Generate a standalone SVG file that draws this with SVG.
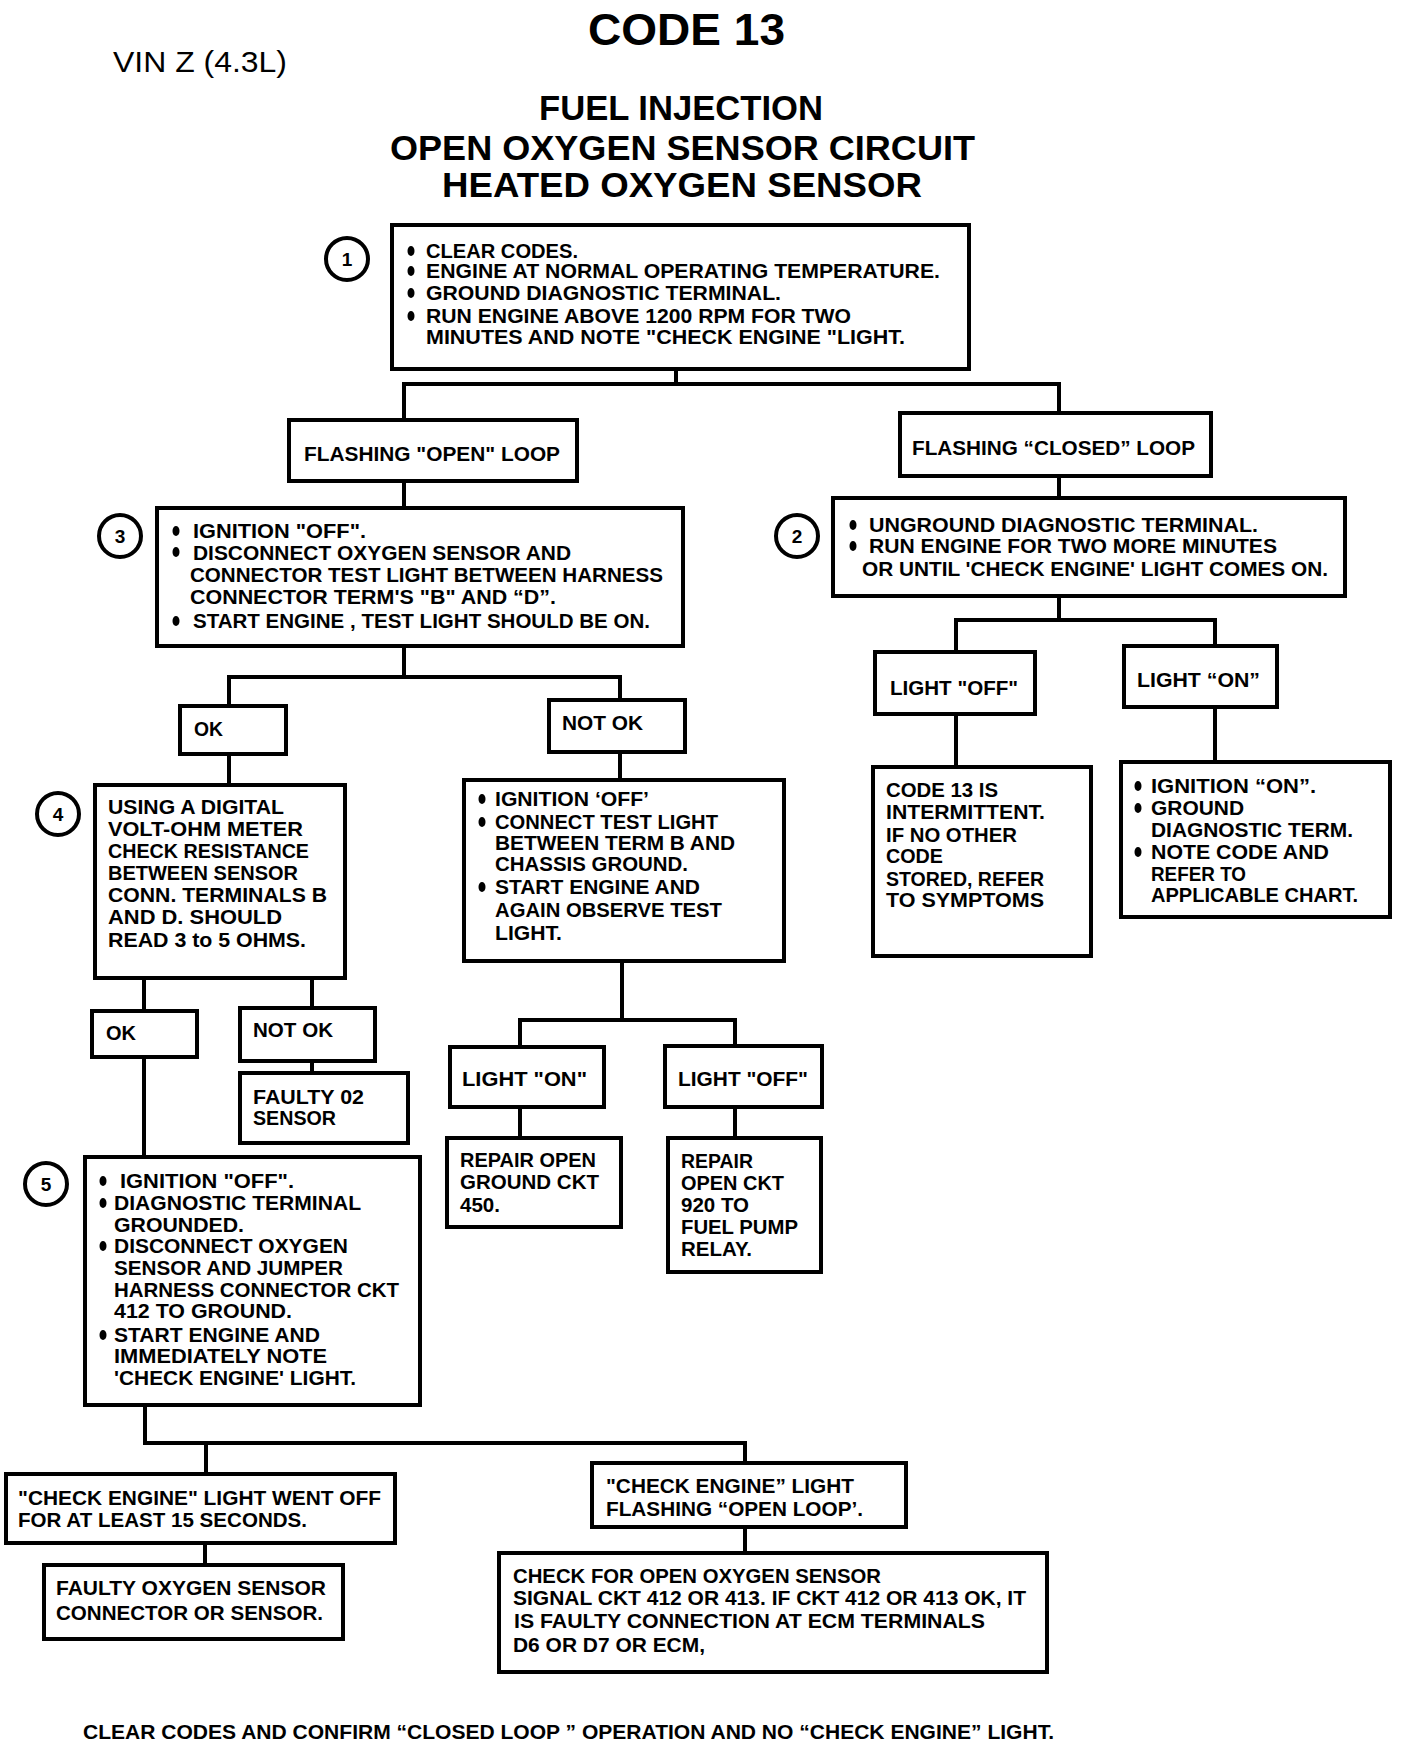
<svg xmlns="http://www.w3.org/2000/svg" width="1408" height="1746" viewBox="0 0 1408 1746">
<style>
.bg{fill:#fff}
.box{fill:#fff;stroke:#000;stroke-width:4}
.cn{fill:none;stroke:#000;stroke-width:4;stroke-linecap:square}
.t{font-family:"Liberation Sans Narrow","Liberation Sans",Arial,sans-serif;font-weight:bold;font-size:21px;fill:#000}
.h{font-family:"Liberation Sans Narrow","Liberation Sans",Arial,sans-serif;font-weight:bold;fill:#000}
.v{font-family:"Liberation Sans Narrow","Liberation Sans",Arial,sans-serif;font-size:29px;fill:#000}
.num{fill:#fff;stroke:#000;stroke-width:4}
.nt{font-family:"Liberation Sans","Arial",sans-serif;font-weight:bold;font-size:19px;text-anchor:middle;fill:#000}
.b{fill:#000}
</style>
<rect class="bg" x="0" y="0" width="1408" height="1746"/>

<g id="title">
<text class="h" x="588" y="45" font-size="44" textLength="197" lengthAdjust="spacingAndGlyphs">CODE 13</text>
<text class="v" x="113" y="72" textLength="174" lengthAdjust="spacingAndGlyphs">VIN Z (4.3L)</text>
<text class="h" x="539" y="120" font-size="35" textLength="284" lengthAdjust="spacingAndGlyphs">FUEL INJECTION</text>
<text class="h" x="390" y="160" font-size="35" textLength="585" lengthAdjust="spacingAndGlyphs">OPEN OXYGEN SENSOR CIRCUIT</text>
<text class="h" x="442" y="197" font-size="35" textLength="480" lengthAdjust="spacingAndGlyphs">HEATED OXYGEN SENSOR</text>
</g>

<g id="connectors">
<polyline class="cn" points="676,369 676,384"/>
<polyline class="cn" points="404,421 404,384 1059,384 1059,413"/>
<polyline class="cn" points="404,481 404,508"/>
<polyline class="cn" points="404,646 404,677"/>
<polyline class="cn" points="229,706 229,677 620,677 620,700"/>
<polyline class="cn" points="229,754 229,785"/>
<polyline class="cn" points="620,752 620,780"/>
<polyline class="cn" points="144,978 144,1011"/>
<polyline class="cn" points="312,978 312,1008"/>
<polyline class="cn" points="312,1061 312,1073"/>
<polyline class="cn" points="144,1057 144,1157"/>
<polyline class="cn" points="622,961 622,1020"/>
<polyline class="cn" points="520,1047 520,1020 735,1020 735,1046"/>
<polyline class="cn" points="520,1107 520,1138"/>
<polyline class="cn" points="735,1107 735,1138"/>
<polyline class="cn" points="1059,476 1059,498"/>
<polyline class="cn" points="1059,596 1059,620"/>
<polyline class="cn" points="956,652 956,620 1215,620 1215,646"/>
<polyline class="cn" points="956,714 956,767"/>
<polyline class="cn" points="1215,707 1215,762"/>
<polyline class="cn" points="145,1405 145,1443 745,1443 745,1463"/>
<polyline class="cn" points="206,1443 206,1474"/>
<polyline class="cn" points="205,1543 205,1565"/>
<polyline class="cn" points="745,1527 745,1553"/>
</g>

<g id="step1">
<circle class="num" cx="347" cy="259" r="21"/><text class="nt" x="347" y="266">1</text>
<rect class="box" x="392" y="225" width="577" height="144"/>
<ellipse class="b" cx="411" cy="251" rx="3.5" ry="5"/>
<ellipse class="b" cx="411" cy="271" rx="3.5" ry="5"/>
<ellipse class="b" cx="411" cy="293" rx="3.5" ry="5"/>
<ellipse class="b" cx="411" cy="316" rx="3.5" ry="5"/>
<text class="t" x="426" y="258" textLength="152" lengthAdjust="spacingAndGlyphs">CLEAR CODES.</text>
<text class="t" x="426" y="278" textLength="514" lengthAdjust="spacingAndGlyphs">ENGINE AT NORMAL OPERATING TEMPERATURE.</text>
<text class="t" x="426" y="300" textLength="355" lengthAdjust="spacingAndGlyphs">GROUND DIAGNOSTIC TERMINAL.</text>
<text class="t" x="426" y="323" textLength="425" lengthAdjust="spacingAndGlyphs">RUN ENGINE ABOVE 1200 RPM FOR TWO</text>
<text class="t" x="426" y="344" textLength="479" lengthAdjust="spacingAndGlyphs">MINUTES AND NOTE "CHECK ENGINE "LIGHT.</text>
</g>

<g id="flashing-open">
<rect class="box" x="289" y="420" width="288" height="61"/>
<text class="t" x="304" y="461" textLength="256" lengthAdjust="spacingAndGlyphs">FLASHING "OPEN" LOOP</text>
</g>

<g id="flashing-closed">
<rect class="box" x="900" y="413" width="311" height="63"/>
<text class="t" x="912" y="455" textLength="283" lengthAdjust="spacingAndGlyphs">FLASHING “CLOSED” LOOP</text>
</g>

<g id="step3">
<circle class="num" cx="120" cy="536" r="21"/><text class="nt" x="120" y="543">3</text>
<rect class="box" x="157" y="508" width="526" height="138"/>
<ellipse class="b" cx="176" cy="531" rx="3.5" ry="5"/>
<ellipse class="b" cx="176" cy="552" rx="3.5" ry="5"/>
<ellipse class="b" cx="176" cy="621" rx="3.5" ry="5"/>
<text class="t" x="193" y="538" font-size="20" textLength="173" lengthAdjust="spacingAndGlyphs">IGNITION "OFF".</text>
<text class="t" x="193" y="560" font-size="20" textLength="378" lengthAdjust="spacingAndGlyphs">DISCONNECT OXYGEN SENSOR AND</text>
<text class="t" x="190" y="582" font-size="20" textLength="473" lengthAdjust="spacingAndGlyphs">CONNECTOR TEST LIGHT BETWEEN  HARNESS</text>
<text class="t" x="190" y="604" font-size="20" textLength="366" lengthAdjust="spacingAndGlyphs">CONNECTOR TERM'S "B" AND “D”.</text>
<text class="t" x="193" y="628" font-size="20" textLength="457" lengthAdjust="spacingAndGlyphs">START ENGINE , TEST LIGHT SHOULD BE ON.</text>
</g>

<g id="step2">
<circle class="num" cx="797" cy="536" r="21"/><text class="nt" x="797" y="543">2</text>
<rect class="box" x="833" y="498" width="512" height="98"/>
<ellipse class="b" cx="853" cy="525" rx="3.5" ry="5"/>
<ellipse class="b" cx="853" cy="546" rx="3.5" ry="5"/>
<text class="t" x="869" y="532" textLength="389" lengthAdjust="spacingAndGlyphs">UNGROUND DIAGNOSTIC TERMINAL.</text>
<text class="t" x="869" y="553" textLength="408" lengthAdjust="spacingAndGlyphs">RUN ENGINE FOR TWO MORE MINUTES</text>
<text class="t" x="862" y="576" textLength="466" lengthAdjust="spacingAndGlyphs">OR UNTIL 'CHECK ENGINE' LIGHT COMES ON.</text>
</g>

<g id="ok1">
<rect class="box" x="180" y="706" width="106" height="48"/>
<text class="t" x="194" y="736" textLength="29" lengthAdjust="spacingAndGlyphs">OK</text>
</g>

<g id="notok1">
<rect class="box" x="549" y="700" width="136" height="52"/>
<text class="t" x="562" y="730" textLength="81" lengthAdjust="spacingAndGlyphs">NOT OK</text>
</g>

<g id="step4">
<circle class="num" cx="58" cy="814" r="21"/><text class="nt" x="58" y="821">4</text>
<rect class="box" x="95" y="785" width="250" height="193"/>
<text class="t" x="108" y="814" textLength="176" lengthAdjust="spacingAndGlyphs">USING A DIGITAL</text>
<text class="t" x="108" y="836" textLength="195" lengthAdjust="spacingAndGlyphs">VOLT-OHM METER</text>
<text class="t" x="108" y="858" textLength="201" lengthAdjust="spacingAndGlyphs">CHECK RESISTANCE</text>
<text class="t" x="108" y="880" textLength="190" lengthAdjust="spacingAndGlyphs">BETWEEN SENSOR</text>
<text class="t" x="108" y="902" textLength="219" lengthAdjust="spacingAndGlyphs">CONN.  TERMINALS B</text>
<text class="t" x="108" y="924" textLength="174" lengthAdjust="spacingAndGlyphs">AND D.  SHOULD</text>
<text class="t" x="108" y="947" textLength="198" lengthAdjust="spacingAndGlyphs">READ 3 to 5 OHMS.</text>
</g>

<g id="ground-test">
<rect class="box" x="464" y="780" width="320" height="181"/>
<ellipse class="b" cx="482" cy="799" rx="3.5" ry="5"/>
<ellipse class="b" cx="482" cy="822" rx="3.5" ry="5"/>
<ellipse class="b" cx="482" cy="887" rx="3.5" ry="5"/>
<text class="t" x="495" y="806" textLength="154" lengthAdjust="spacingAndGlyphs">IGNITION ‘OFF’</text>
<text class="t" x="495" y="829" textLength="223" lengthAdjust="spacingAndGlyphs">CONNECT TEST LIGHT</text>
<text class="t" x="495" y="850" textLength="240" lengthAdjust="spacingAndGlyphs">BETWEEN TERM B AND</text>
<text class="t" x="495" y="871" textLength="193" lengthAdjust="spacingAndGlyphs">CHASSIS GROUND.</text>
<text class="t" x="495" y="894" textLength="205" lengthAdjust="spacingAndGlyphs">START ENGINE AND</text>
<text class="t" x="495" y="917" textLength="227" lengthAdjust="spacingAndGlyphs">AGAIN OBSERVE TEST</text>
<text class="t" x="495" y="940" textLength="67" lengthAdjust="spacingAndGlyphs">LIGHT.</text>
</g>

<g id="light-off-2">
<rect class="box" x="875" y="652" width="160" height="62"/>
<text class="t" x="890" y="695" textLength="128" lengthAdjust="spacingAndGlyphs">LIGHT "OFF"</text>
</g>

<g id="light-on-2">
<rect class="box" x="1124" y="646" width="153" height="61"/>
<text class="t" x="1137" y="687" textLength="123" lengthAdjust="spacingAndGlyphs">LIGHT “ON”</text>
</g>

<g id="intermittent">
<rect class="box" x="873" y="767" width="218" height="189"/>
<text class="t" x="886" y="797" textLength="112" lengthAdjust="spacingAndGlyphs">CODE 13 IS</text>
<text class="t" x="886" y="819" textLength="159" lengthAdjust="spacingAndGlyphs">INTERMITTENT.</text>
<text class="t" x="886" y="842" textLength="131" lengthAdjust="spacingAndGlyphs">IF NO OTHER</text>
<text class="t" x="886" y="863" textLength="57" lengthAdjust="spacingAndGlyphs">CODE</text>
<text class="t" x="886" y="886" textLength="158" lengthAdjust="spacingAndGlyphs">STORED, REFER</text>
<text class="t" x="886" y="907" textLength="158" lengthAdjust="spacingAndGlyphs">TO SYMPTOMS</text>
</g>

<g id="note-code">
<rect class="box" x="1121" y="762" width="269" height="155"/>
<ellipse class="b" cx="1138" cy="786" rx="3.5" ry="5"/>
<ellipse class="b" cx="1138" cy="808" rx="3.5" ry="5"/>
<ellipse class="b" cx="1138" cy="852" rx="3.5" ry="5"/>
<text class="t" x="1151" y="793" textLength="165" lengthAdjust="spacingAndGlyphs">IGNITION “ON”.</text>
<text class="t" x="1151" y="815" textLength="93" lengthAdjust="spacingAndGlyphs">GROUND</text>
<text class="t" x="1151" y="837" textLength="202" lengthAdjust="spacingAndGlyphs">DIAGNOSTIC TERM.</text>
<text class="t" x="1151" y="859" textLength="178" lengthAdjust="spacingAndGlyphs">NOTE CODE  AND</text>
<text class="t" x="1151" y="881" textLength="95" lengthAdjust="spacingAndGlyphs">REFER TO</text>
<text class="t" x="1151" y="902" textLength="207" lengthAdjust="spacingAndGlyphs">APPLICABLE CHART.</text>
</g>

<g id="ok2">
<rect class="box" x="92" y="1011" width="105" height="46"/>
<text class="t" x="106" y="1040" textLength="30" lengthAdjust="spacingAndGlyphs">OK</text>
</g>

<g id="notok2">
<rect class="box" x="240" y="1008" width="135" height="53"/>
<text class="t" x="253" y="1037" textLength="80" lengthAdjust="spacingAndGlyphs">NOT OK</text>
</g>

<g id="faulty-o2">
<rect class="box" x="240" y="1073" width="168" height="70"/>
<text class="t" x="253" y="1104" textLength="111" lengthAdjust="spacingAndGlyphs">FAULTY 02</text>
<text class="t" x="253" y="1125" textLength="83" lengthAdjust="spacingAndGlyphs">SENSOR</text>
</g>

<g id="light-on-1">
<rect class="box" x="450" y="1047" width="154" height="60"/>
<text class="t" x="462" y="1086" textLength="125" lengthAdjust="spacingAndGlyphs">LIGHT "ON"</text>
</g>

<g id="light-off-1">
<rect class="box" x="665" y="1046" width="157" height="61"/>
<text class="t" x="678" y="1086" textLength="130" lengthAdjust="spacingAndGlyphs">LIGHT "OFF"</text>
</g>

<g id="repair-ground">
<rect class="box" x="447" y="1138" width="174" height="89"/>
<text class="t" x="460" y="1167" textLength="136" lengthAdjust="spacingAndGlyphs">REPAIR OPEN</text>
<text class="t" x="460" y="1189" textLength="139" lengthAdjust="spacingAndGlyphs">GROUND CKT</text>
<text class="t" x="460" y="1212" textLength="40" lengthAdjust="spacingAndGlyphs">450.</text>
</g>

<g id="repair-920">
<rect class="box" x="668" y="1138" width="153" height="134"/>
<text class="t" x="681" y="1168" textLength="72" lengthAdjust="spacingAndGlyphs">REPAIR</text>
<text class="t" x="681" y="1190" textLength="103" lengthAdjust="spacingAndGlyphs">OPEN CKT</text>
<text class="t" x="681" y="1212" textLength="68" lengthAdjust="spacingAndGlyphs">920 TO</text>
<text class="t" x="681" y="1234" textLength="117" lengthAdjust="spacingAndGlyphs">FUEL PUMP</text>
<text class="t" x="681" y="1256" textLength="71" lengthAdjust="spacingAndGlyphs">RELAY.</text>
</g>

<g id="step5">
<circle class="num" cx="46" cy="1184" r="21"/><text class="nt" x="46" y="1191">5</text>
<rect class="box" x="85" y="1157" width="335" height="248"/>
<ellipse class="b" cx="103" cy="1181" rx="3.5" ry="5"/>
<ellipse class="b" cx="103" cy="1203" rx="3.5" ry="5"/>
<ellipse class="b" cx="103" cy="1246" rx="3.5" ry="5"/>
<ellipse class="b" cx="103" cy="1335" rx="3.5" ry="5"/>
<text class="t" x="120" y="1188" textLength="174" lengthAdjust="spacingAndGlyphs">IGNITION "OFF".</text>
<text class="t" x="114" y="1210" textLength="247" lengthAdjust="spacingAndGlyphs">DIAGNOSTIC TERMINAL</text>
<text class="t" x="114" y="1232" textLength="130" lengthAdjust="spacingAndGlyphs">GROUNDED.</text>
<text class="t" x="114" y="1253" textLength="234" lengthAdjust="spacingAndGlyphs">DISCONNECT OXYGEN</text>
<text class="t" x="114" y="1275" textLength="229" lengthAdjust="spacingAndGlyphs">SENSOR AND JUMPER</text>
<text class="t" x="114" y="1297" textLength="285" lengthAdjust="spacingAndGlyphs">HARNESS CONNECTOR CKT</text>
<text class="t" x="114" y="1318" textLength="178" lengthAdjust="spacingAndGlyphs">412 TO GROUND.</text>
<text class="t" x="114" y="1342" textLength="206" lengthAdjust="spacingAndGlyphs">START ENGINE AND</text>
<text class="t" x="114" y="1363" textLength="213" lengthAdjust="spacingAndGlyphs">IMMEDIATELY NOTE</text>
<text class="t" x="114" y="1385" textLength="242" lengthAdjust="spacingAndGlyphs">'CHECK ENGINE' LIGHT.</text>
</g>

<g id="went-off">
<rect class="box" x="6" y="1474" width="389" height="69"/>
<text class="t" x="18" y="1505" textLength="363" lengthAdjust="spacingAndGlyphs">"CHECK ENGINE" LIGHT WENT OFF</text>
<text class="t" x="18" y="1527" textLength="289" lengthAdjust="spacingAndGlyphs">FOR AT LEAST 15 SECONDS.</text>
</g>

<g id="faulty-oxygen">
<rect class="box" x="44" y="1565" width="299" height="74"/>
<text class="t" x="56" y="1595" textLength="270" lengthAdjust="spacingAndGlyphs">FAULTY OXYGEN SENSOR</text>
<text class="t" x="56" y="1620" textLength="267" lengthAdjust="spacingAndGlyphs">CONNECTOR OR SENSOR.</text>
</g>

<g id="flashing-open-2">
<rect class="box" x="592" y="1463" width="314" height="64"/>
<text class="t" x="606" y="1493" textLength="248" lengthAdjust="spacingAndGlyphs">"CHECK ENGINE” LIGHT</text>
<text class="t" x="606" y="1516" textLength="257" lengthAdjust="spacingAndGlyphs">FLASHING “OPEN LOOP’.</text>
</g>

<g id="check-open">
<rect class="box" x="499" y="1553" width="548" height="119"/>
<text class="t" x="513" y="1583" textLength="368" lengthAdjust="spacingAndGlyphs">CHECK FOR OPEN OXYGEN SENSOR</text>
<text class="t" x="513" y="1605" textLength="513" lengthAdjust="spacingAndGlyphs">SIGNAL CKT 412 OR 413.  IF CKT 412 OR 413 OK, IT</text>
<text class="t" x="514" y="1628" textLength="471" lengthAdjust="spacingAndGlyphs">IS FAULTY CONNECTION AT ECM TERMINALS</text>
<text class="t" x="513" y="1652" textLength="192" lengthAdjust="spacingAndGlyphs">D6 OR D7 OR ECM,</text>
</g>

<g id="footer">
<text class="t" x="83" y="1739" textLength="971" lengthAdjust="spacingAndGlyphs">CLEAR CODES AND CONFIRM “CLOSED LOOP ” OPERATION AND NO “CHECK ENGINE” LIGHT.</text>
</g>
</svg>
